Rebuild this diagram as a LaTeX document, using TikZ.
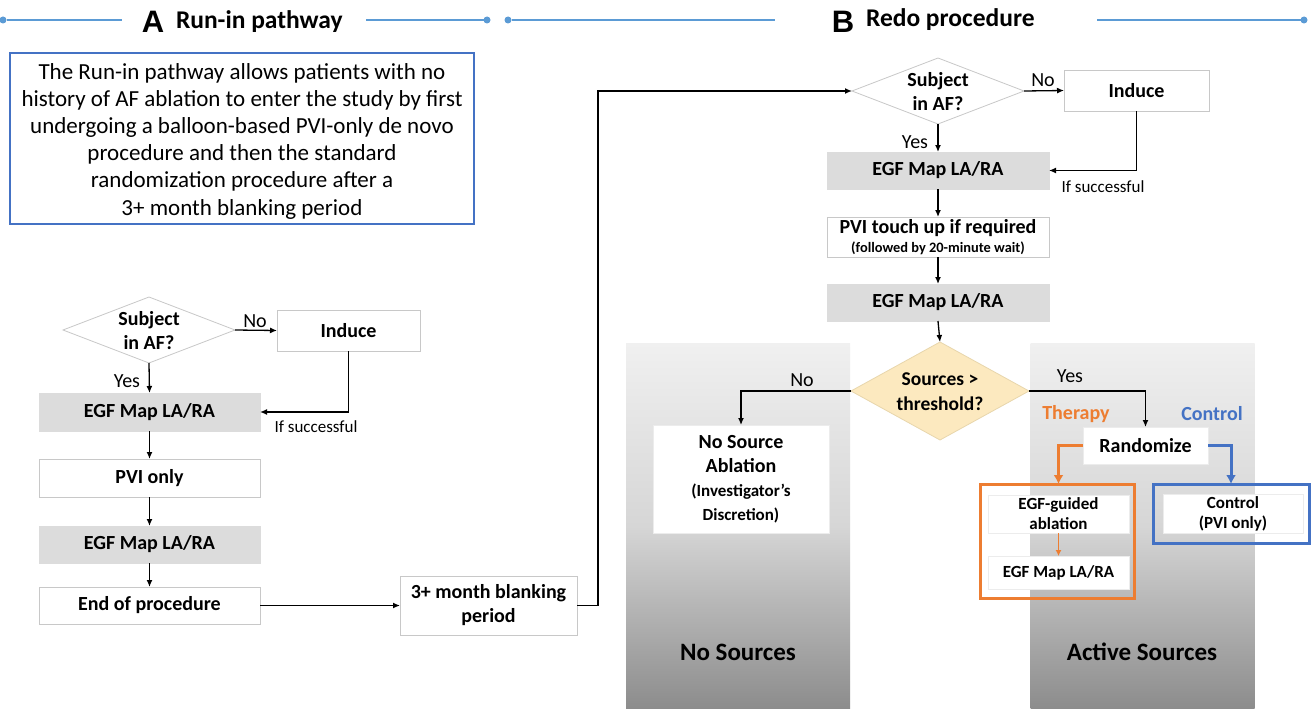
\documentclass[tikz,border=0pt]{standalone}
\usepackage{fontspec}
\setmainfont{Carlito}
\newfontfamily\arialf{Liberation Sans}
\usetikzlibrary{arrows.meta,shapes.geometric,calc}
\definecolor{hdrblue}{HTML}{5B9BD5}
\definecolor{boxblue}{HTML}{4472C4}
\definecolor{orng}{HTML}{ED7D31}
\definecolor{graybox}{HTML}{DCDCDC}
\definecolor{graybd}{HTML}{C8C8C8}
\definecolor{srcfill}{HTML}{FCE9BF}
\definecolor{srcbd}{HTML}{E8D6AC}
\definecolor{ptop}{HTML}{F0F0F0}
\definecolor{pmid}{HTML}{D6D6D6}
\definecolor{pbot}{HTML}{8C8C8C}
\begin{document}
\begin{tikzpicture}[x=1pt,y=-1pt,
  every node/.style={inner sep=0pt,outer sep=0pt},
  wbox/.style={draw=graybd,line width=0.8pt,fill=white,align=center,
    font=\fontsize{20}{24}\selectfont\bfseries},
  gbox/.style={wbox,fill=graybox,draw=graybox},
  pbox/.style={wbox,draw=gray!15},
  sbox/.style={pbox,font=\fontsize{17}{20}\selectfont\bfseries},
  dshape/.style={diamond,draw=graybd,line width=0.8pt,fill=white},
  dtext/.style={align=center,font=\fontsize{20}{24}\selectfont\bfseries},
  lbl/.style={font=\fontsize{20}{22}\selectfont},
  slbl/.style={font=\fontsize{17}{20}\selectfont},
  arr/.style={-{Latex[length=7pt,width=6pt]},line width=1.3pt},
  hline/.style={hdrblue,line width=2.5pt},
  hdot/.style={circle,fill=hdrblue,minimum size=7pt},
  panel/.style={minimum width=224pt,minimum height=366pt,top color=ptop,bottom color=pbot,middle color=pmid},
  ptext/.style={font=\fontsize{25}{30}\selectfont\bfseries},
  ttext/.style={font=\fontsize{25.5}{30}\selectfont\bfseries},
  bigL/.style={font=\fontsize{31}{34}\selectfont\arialf\bfseries},
  armlbl/.style={font=\fontsize{20}{22}\selectfont\bfseries}
]
\useasboundingbox (0,0) rectangle (1315,709);
\fill[white] (0,0) rectangle (1315,709);

% ---------- headers ----------
\node[hdot] (h1) at (3,20) {};
\coordinate (h2) at (122,20);
\draw[hline] (h1) -- (h2);
\node[bigL] (lA) at (153,22) {A};
\node[ttext,anchor=west] (tA) at (176,22) {Run-in pathway};
\coordinate (h3) at (366,20);
\node[hdot] (h4) at (487,20) {};
\draw[hline] (h3) -- (h4);
\node[hdot] (h5) at (508,20) {};
\coordinate (h6) at (775,20);
\draw[hline] (h5) -- (h6);
\node[bigL] (lB) at (843,22) {B};
\node[ttext,anchor=west] (tB) at (866,20) {Redo procedure};
\coordinate (h7) at (1097,20);
\node[hdot] (h8) at (1304,20) {};
\draw[hline] (h7) -- (h8);

% ---------- description ----------
\node[draw=boxblue,line width=1.1pt,minimum width=464pt,minimum height=171pt] (desc) at (242,138.5) {};
\node[align=center,font=\fontsize{23}{27.2}\selectfont] (descT) at (242,141)
  {The Run-in pathway allows patients with no\\history of AF ablation to enter the study by first\\undergoing a balloon-based PVI-only de novo\\procedure and then the standard\\randomization procedure after a\\3+ month blanking period};

% ---------- panel A flow ----------
\node[dshape,minimum width=172pt,minimum height=66pt] (dA) at (149,330) {};
\node[dtext] (dAt) at (149,331) {Subject\\in AF?};
\node[wbox,minimum width=143pt,minimum height=41pt] (indA) at (348.5,330.5) {Induce};
\node[gbox,minimum width=221pt,minimum height=38pt] (egfA1) at (149.5,412) {EGF Map LA/RA};
\node[wbox,minimum width=221pt,minimum height=38pt] (pviA) at (149.5,478) {PVI only};
\node[gbox,minimum width=221pt,minimum height=37pt] (egfA2) at (149.5,544.5) {EGF Map LA/RA};
\node[wbox,minimum width=221pt,minimum height=37pt] (endA) at (149.5,605.5) {End of procedure};
\node[wbox,minimum width=177pt,minimum height=59pt,font=\fontsize{20}{24}\selectfont\bfseries] (blank) at (488.5,605.5) {3+ month blanking\\period};

\draw[arr] (dA.east) -- (indA.west);
\node[lbl] (noA) at (255,321) {No};
\draw[arr] (dA.south) -- (egfA1.north);
\node[lbl] (yesA) at (127,381) {Yes};
\draw[arr] (indA.south) |- (egfA1.east);
\node[slbl] (ifA) at (316,427) {If successful};
\draw[arr] (egfA1.south) -- (pviA.north);
\draw[arr] (pviA.south) -- (egfA2.north);
\draw[arr] (egfA2.south) -- (endA.north);
\draw[arr] (endA.east) -- (blank.west);

% ---------- panel B ----------
\node[panel] (pNo) at (738,526) {};
\node[panel] (pAct) at (1142.5,526) {};
\node[ptext] (pNoT) at (738,652) {No Sources};
\node[ptext] (pActT) at (1142,652) {Active Sources};

\node[dshape,minimum width=172pt,minimum height=66pt] (dB) at (938,91) {};
\node[dtext] (dBt) at (938,92) {Subject\\in AF?};
\node[wbox,minimum width=145pt,minimum height=41pt] (indB) at (1136.5,90.5) {Induce};
\node[gbox,minimum width=222pt,minimum height=37pt] (egfB1) at (938,170.5) {EGF Map LA/RA};
\node[wbox,minimum width=222pt,minimum height=40pt,font=\fontsize{20}{19}\selectfont\bfseries] (pviB) at (938,237)
  {PVI touch up if required\\{\fontsize{14.4}{15}\selectfont(followed by 20-minute wait)}};
\node[gbox,minimum width=222pt,minimum height=37pt] (egfB2) at (938,302.5) {EGF Map LA/RA};
\node[diamond,fill=srcfill,draw=srcbd,line width=0.8pt,minimum width=178pt,minimum height=98pt] (dS) at (940,391) {};
\node[dtext,font=\fontsize{19.5}{25}\selectfont\bfseries] (dSt) at (940,392) {Sources >\\threshold?};

\coordinate (turn) at (598,605.5);
\draw[arr] (blank.east) -- (turn) |- (dB.west);

\draw[arr] (dB.east) -- (indB.west);
\node[lbl] (noB) at (1043,80) {No};
\draw[arr] (dB.south) -- (egfB1.north);
\node[lbl] (yesB) at (915,142) {Yes};
\draw[arr] (indB.south) |- (egfB1.east);
\node[slbl] (ifB) at (1103,187) {If successful};
\draw[arr] (egfB1.south) -- (pviB.north);
\draw[arr] (pviB.south) -- (egfB2.north);
\draw[arr] (egfB2.south) -- (dS.north);

\node[pbox,minimum width=176pt,minimum height=108pt,font=\fontsize{20}{24}\selectfont\bfseries] (noSrc) at (741,479)
  {No Source\\Ablation\\{\fontsize{17}{20}\selectfont(Investigator’s}\\{\fontsize{17}{20}\selectfont Discretion)}};
\draw[arr] (dS.west) -| (noSrc.north);
\node[lbl] (noS) at (802,380) {No};

\node[pbox,minimum width=125pt,minimum height=37pt] (rand) at (1145.5,445.5) {Randomize};
\draw[arr] (dS.east) -| (rand.north);
\node[lbl] (yesS) at (1070,376) {Yes};
\node[armlbl,text=orng] (ther) at (1076,414) {Therapy};
\node[armlbl,text=boxblue] (ctl) at (1212,414) {Control};

\node[draw=orng,line width=3pt,minimum width=154pt,minimum height=114pt] (thBox) at (1057,541) {};
\node[sbox,minimum width=141pt,minimum height=38pt] (egfG) at (1058.5,514) {EGF-guided\\ablation};
\node[sbox,minimum width=141pt,minimum height=33pt] (egfB3) at (1058.5,572.5) {EGF Map LA/RA};
\draw[-{Latex[length=6pt,width=6pt]},line width=1.8pt,orng] (egfG.south) -- (egfB3.north);

\node[draw=boxblue,line width=3pt,minimum width=156pt,minimum height=59pt] (ctBox) at (1231,513.5) {};
\node[sbox,minimum width=140pt,minimum height=39pt] (ctrl) at (1233,513.5) {Control\\(PVI only)};

\draw[-{Latex[length=9pt,width=10pt]},line width=3pt,orng] (rand.west) -| (egfG.north |- thBox.north);
\draw[-{Latex[length=9pt,width=10pt]},line width=3pt,boxblue] (rand.east) -| (ctBox.north);
\end{tikzpicture}
\end{document}
